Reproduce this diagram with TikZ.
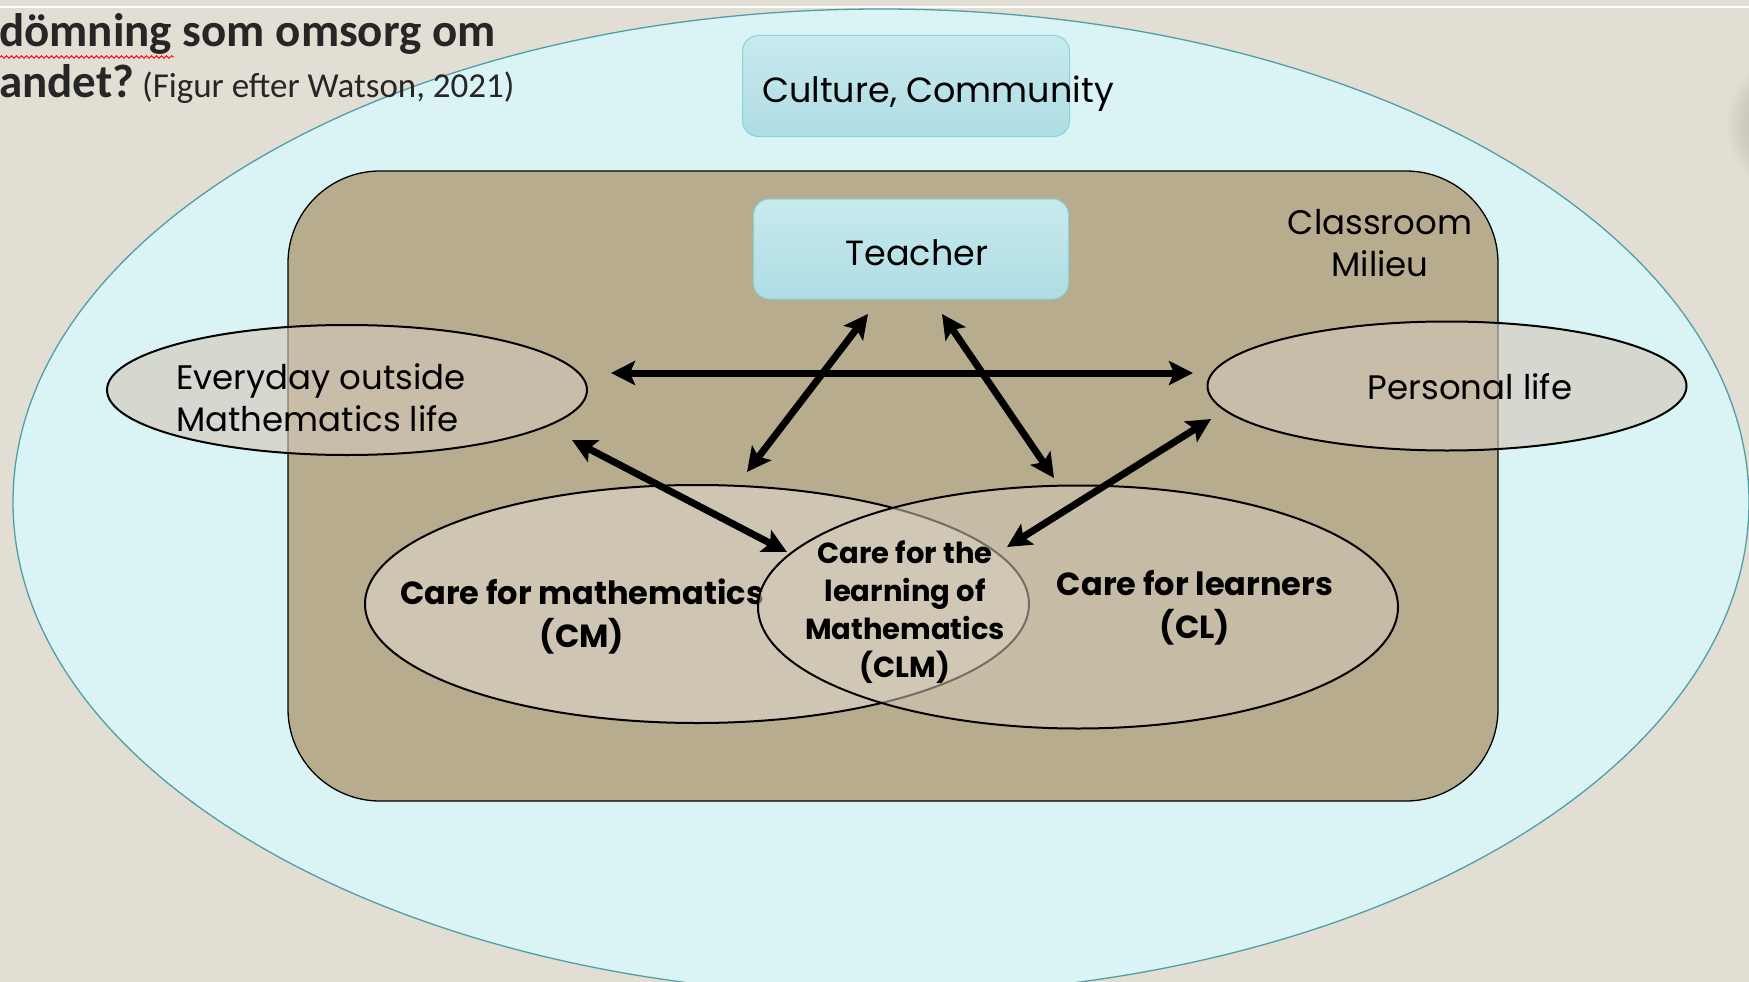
\documentclass[tikz,border=0pt]{standalone}
\usepackage{fontspec}
\setmainfont{Poppins}
\newfontfamily\titlefont{Carlito}
\usetikzlibrary{arrows.meta,decorations.pathmorphing,shapes.geometric}
\definecolor{bgbeige}{RGB}{227,222,211}
\definecolor{skyfill}{RGB}{218,243,244}
\definecolor{skyline}{RGB}{78,159,169}
\definecolor{tanfill}{RGB}{184,172,143}
\definecolor{boxtop}{RGB}{200,234,238}
\definecolor{boxbot}{RGB}{174,221,227}
\definecolor{boxline}{RGB}{134,211,218}
\definecolor{ovalfill}{RGB}{210,201,184}
\definecolor{titlegray}{RGB}{38,38,38}
\tikzset{
  oval/.style={ellipse, draw=black, line width=2pt, fill=ovalfill, fill opacity=0.62, inner sep=0pt},
  tealbox/.style={rectangle, rounded corners=16pt, draw=boxline, line width=1pt, top color=boxtop, bottom color=boxbot, inner sep=0pt},
  biarrow/.style={{Stealth[length=24pt,width=24pt,inset=5pt]}-{Stealth[length=24pt,width=24pt,inset=5pt]}, line width=7pt, black},
  lbl/.style={font=\fontsize{35}{42}\selectfont, text=black, inner sep=0pt},
  boldlbl/.style={font=\bfseries\fontsize{32}{43}\selectfont, text=black, inner sep=0pt, align=center},
}
\begin{document}
\begin{tikzpicture}[x=1pt,y=-1pt]
\useasboundingbox (0,0) rectangle (1749,982);
\clip (0,0) rectangle (1749,982);
\fill[bgbeige] (0,0) rectangle (1749,982);
\draw[white, line width=1.5pt] (0,7) -- (1749,7);
\shade[inner color=black!35!bgbeige, outer color=bgbeige] (1800,125) circle (75pt);

% outer community ellipse
\node[ellipse, draw=skyline, line width=1.3pt, fill=skyfill, minimum width=1736pt, minimum height=986pt, inner sep=0pt] (community) at (881,502) {};

% classroom
\node[rectangle, rounded corners=92pt, draw=black, line width=1.3pt, fill=tanfill, minimum width=1210pt, minimum height=630pt, inner sep=0pt] (classroom) at (893,486) {};
\node[lbl, align=center, font=\fontsize{34}{42}\selectfont] (milieu) at (1380,243) {Classroom\\Milieu};

% title
\node[anchor=base west, inner sep=0pt, text=titlegray, font=\titlefont\bfseries\fontsize{47}{52}\selectfont] (title1) at (-1,47) {dömning som omsorg om};
\node[anchor=base west, inner sep=0pt, text=titlegray, font=\titlefont\fontsize{47}{52}\selectfont] (title2) at (-1,98) {\bfseries andet?\mdseries\fontsize{35}{40}\selectfont\ (Figur efter Watson, 2021)};
\draw[red, line width=0.9pt, decorate, decoration={snake, amplitude=1.3pt, segment length=5pt}] (title1.base west) ++(1,10) -- ++(174,0);

% boxes
\node[tealbox, minimum width=327pt, minimum height=101pt] (culture) at (906,86) {};
\node[lbl] (culturetext) at (938,94) {Culture, Community};
\node[tealbox, minimum width=315pt, minimum height=100pt] (teacher) at (911,249) {};
\node[lbl] (teachertext) at (917,253) {Teacher};

% life ellipses
\node[oval, minimum width=480pt, minimum height=130pt] (everyday) at (347,390) {};
\node[lbl, font=\fontsize{34}{42}\selectfont, align=left, anchor=west] (everydaytext) at (176,398) {Everyday outside\\Mathematics life};
\node[oval, minimum width=479pt, minimum height=129pt] (personal) at (1447,386) {};
\node[lbl, font=\fontsize{34}{42}\selectfont] (personaltext) at (1470,387) {Personal life};

% care ellipses
\node[oval, fill opacity=1, fill=ovalfill!85!tanfill, minimum width=664pt, minimum height=238pt] (cm) at (697,604) {};
\node[boldlbl] (cmtext) at (582,617) {Care for mathematics\\(CM)};
\node[oval, minimum width=640pt, minimum height=243pt, fill opacity=0.55] (cl) at (1078,607) {};
\node[boldlbl] (cltext) at (1195,608) {Care for learners\\(CL)};
\node[boldlbl, font=\bfseries\fontsize{29}{38}\selectfont] (clmtext) at (905,612) {Care for the\\learning of\\Mathematics\\(CLM)};

% arrow end points
\coordinate (h1) at (611,373);
\coordinate (h2) at (1193,373);
\coordinate (t1a) at (868,314);
\coordinate (t1b) at (747,472);
\coordinate (t2a) at (942,314);
\coordinate (t2b) at (1054,478);
\coordinate (e1) at (572,440);
\coordinate (e2) at (787,552);
\coordinate (p1) at (1211,419);
\coordinate (p2) at (1007,547);

\draw[biarrow] (h1) -- (h2);
\draw[biarrow] (t1a) -- (t1b);
\draw[biarrow] (t2a) -- (t2b);
\draw[biarrow] (e1) -- (e2);
\draw[biarrow] (p1) -- (p2);
\end{tikzpicture}
\end{document}
